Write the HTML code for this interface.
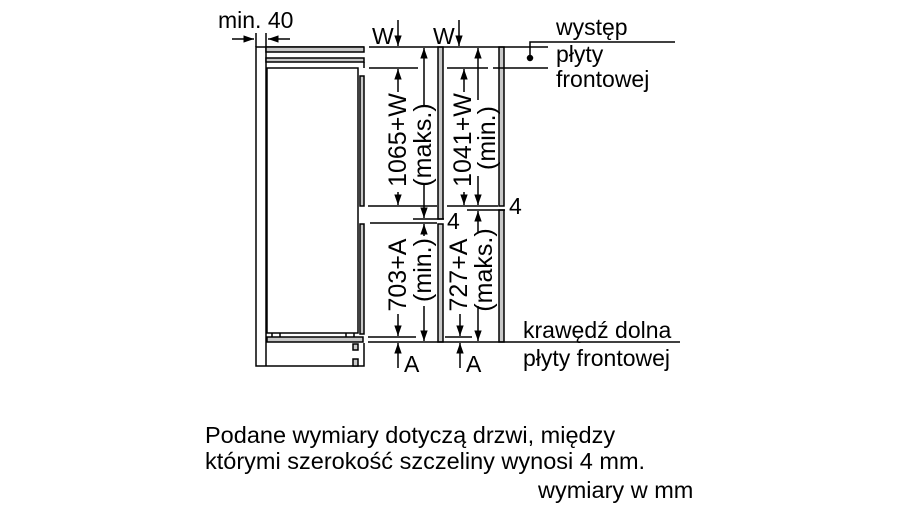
<!DOCTYPE html>
<html><head><meta charset="utf-8"><style>
html,body{margin:0;padding:0;background:#fff;}
svg{display:block;font-family:"Liberation Sans",Arial,sans-serif;}
</style></head><body>
<svg width="900" height="506" viewBox="0 0 900 506" xmlns="http://www.w3.org/2000/svg">
<defs>
<marker id="a" viewBox="0 0 10 10" refX="10" refY="5" markerWidth="7" markerHeight="7" orient="auto-start-reverse"><path d="M0,1.5 L10,5 L0,8.5 z" fill="#000"/></marker>
</defs>
<g stroke="#000" stroke-width="1.5" fill="none">
<polyline points="364,47 256,47 256,366 364,366 364,343"/>
<line x1="266" y1="47" x2="266" y2="366"/>
<rect x="266" y="47" width="98" height="5" fill="#c8c8c8"/>
<rect x="266" y="58" width="98" height="4" fill="#c8c8c8"/>
<line x1="364" y1="62" x2="364" y2="68"/>
<rect x="267" y="68" width="91" height="265" fill="#fff"/>
<rect x="360" y="76" width="4" height="130" fill="#c8c8c8"/>
<rect x="360" y="224" width="4" height="110" fill="#c8c8c8"/>
<line x1="272" y1="333" x2="272" y2="337"/><line x1="280" y1="333" x2="280" y2="337"/>
<line x1="346" y1="333" x2="346" y2="337"/><line x1="354" y1="333" x2="354" y2="337"/>
<rect x="267" y="337" width="96" height="5" fill="#c8c8c8"/>
<rect x="353" y="344" width="5" height="6" fill="#c8c8c8"/>
<rect x="353" y="359" width="5" height="7" fill="#c8c8c8"/>
<rect x="438" y="47" width="5" height="172" fill="#c8c8c8"/>
<rect x="438" y="224" width="5" height="118" fill="#c8c8c8"/>
<rect x="499" y="47" width="5" height="159" fill="#c8c8c8"/>
<rect x="499" y="210" width="5" height="132" fill="#c8c8c8"/>
<line x1="369" y1="47" x2="548" y2="47"/>
<line x1="369" y1="68" x2="418" y2="68"/><line x1="447" y1="68" x2="488" y2="68"/><line x1="493" y1="68" x2="548" y2="68"/>
<line x1="368" y1="206" x2="437" y2="206"/>
<line x1="413" y1="219" x2="444" y2="219"/>
<line x1="370" y1="223" x2="437" y2="223"/>
<line x1="447" y1="206" x2="498" y2="206"/>
<line x1="467" y1="210" x2="505" y2="210"/>
<line x1="368" y1="337" x2="416" y2="337"/>
<line x1="445" y1="337" x2="472" y2="337"/>
<line x1="368" y1="342" x2="680" y2="342"/>
<polyline points="530,58 530,42 675,42"/>
<line x1="232" y1="39" x2="254" y2="39" marker-end="url(#a)"/>
<line x1="290" y1="39" x2="268" y2="39" marker-end="url(#a)"/>
<line x1="256" y1="33" x2="256" y2="47"/><line x1="266" y1="33" x2="266" y2="47"/>
<line x1="398" y1="20" x2="398" y2="46" marker-end="url(#a)"/>
<line x1="459" y1="20" x2="459" y2="46" marker-end="url(#a)"/>
<line x1="398" y1="92" x2="398" y2="69" marker-end="url(#a)"/>
<line x1="398" y1="192" x2="398" y2="205" marker-end="url(#a)"/>
<line x1="424" y1="106" x2="424" y2="48" marker-end="url(#a)"/>
<line x1="424" y1="184" x2="424" y2="218" marker-end="url(#a)"/>
<line x1="464" y1="92" x2="464" y2="69" marker-end="url(#a)"/>
<line x1="464" y1="192" x2="464" y2="205" marker-end="url(#a)"/>
<line x1="478" y1="100" x2="478" y2="48" marker-end="url(#a)"/>
<line x1="478" y1="176" x2="478" y2="205" marker-end="url(#a)"/>
<line x1="398" y1="314" x2="398" y2="336" marker-end="url(#a)"/>
<line x1="424" y1="236" x2="424" y2="224" marker-end="url(#a)"/>
<line x1="424" y1="306" x2="424" y2="341" marker-end="url(#a)"/>
<line x1="460" y1="314" x2="460" y2="336" marker-end="url(#a)"/>
<line x1="478" y1="232" x2="478" y2="211" marker-end="url(#a)"/>
<line x1="478" y1="306" x2="478" y2="341" marker-end="url(#a)"/>
<line x1="398" y1="368" x2="398" y2="343" marker-end="url(#a)"/>
<line x1="460" y1="368" x2="460" y2="343" marker-end="url(#a)"/>
<circle cx="530" cy="58" r="2.5" fill="#000"/>
</g>
<g font-size="23" fill="#000">
<text x="218" y="28">min. 40</text>
<text x="372" y="44">W</text>
<text x="433" y="44">W</text>
<text x="447" y="229">4</text>
<text x="509" y="214">4</text>
<text x="404" y="372">A</text>
<text x="466" y="372">A</text>
<text x="556" y="35">występ</text>
<text x="556" y="62">płyty</text>
<text x="556" y="87">frontowej</text>
<text x="523" y="338">krawędź dolna</text>
<text x="523" y="366">płyty frontowej</text>
</g>
<g font-size="25" fill="#000">
<text transform="translate(406,140) rotate(-90)" text-anchor="middle">1065+W</text>
<text transform="translate(431,145) rotate(-90)" text-anchor="middle">(maks.)</text>
<text transform="translate(471,140) rotate(-90)" text-anchor="middle">1041+W</text>
<text transform="translate(495,138) rotate(-90)" text-anchor="middle">(min.)</text>
<text transform="translate(406,275) rotate(-90)" text-anchor="middle">703+A</text>
<text transform="translate(431,270) rotate(-90)" text-anchor="middle">(min.)</text>
<text transform="translate(467,275) rotate(-90)" text-anchor="middle">727+A</text>
<text transform="translate(492,270) rotate(-90)" text-anchor="middle">(maks.)</text>
</g>
<g font-size="23.5" fill="#000">
<text x="205" y="443">Podane wymiary dotyczą drzwi, między</text>
<text x="205" y="469">którymi szerokość szczeliny wynosi 4 mm.</text>
<text x="538" y="498">wymiary w mm</text>
</g>
</svg>
</body></html>
